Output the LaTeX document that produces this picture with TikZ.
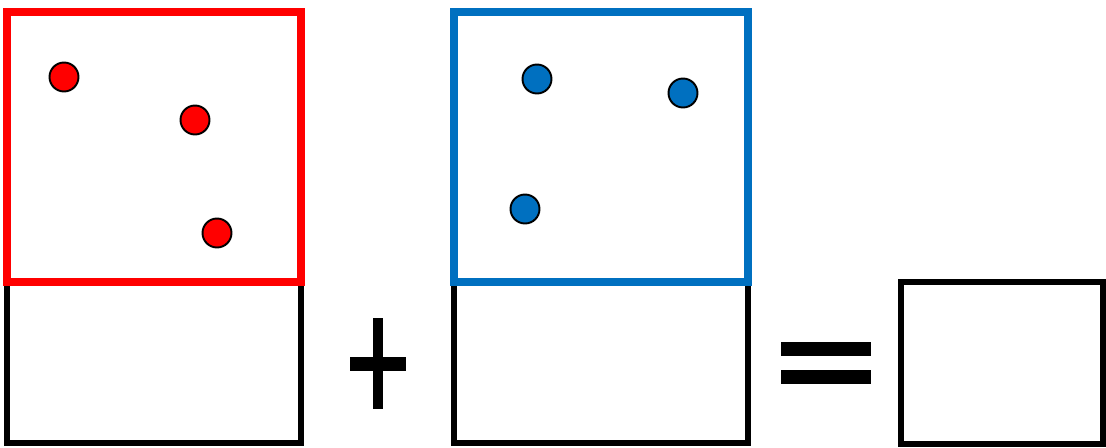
\documentclass[tikz,border=0pt]{standalone}
\usepackage{xcolor}
\usetikzlibrary{positioning}
\definecolor{dred}{HTML}{FF0000}
\definecolor{dblue}{HTML}{0070C0}
\tikzset{
  frame/.style={draw=black,line width=3.4pt},
  redsq/.style={draw=dred,line width=4.55pt},
  bluesq/.style={draw=dblue,line width=4.55pt},
  dotr/.style={circle,draw=black,line width=1.1pt,fill=dred,minimum size=0.58cm,inner sep=0pt},
  dotb/.style={dotr,fill=dblue},
  sign/.style={fill=black}
}
\begin{document}
\begin{tikzpicture}[x=0.02cm,y=-0.02cm]
\useasboundingbox (0,0) rectangle (1106,447);
% lower boxes
\draw[frame] (7,282) rectangle (301,443);
\draw[frame] (454,282) rectangle (748,443);
\draw[frame] (901,282) rectangle (1103,444);
% upper squares
\draw[redsq] (7,12) rectangle (301,282);
\draw[bluesq] (454,12) rectangle (748,282);
% points
\node[dotr] (r1) at (64,77) {};
\node[dotr] (r2) at (195,120) {};
\node[dotr] (r3) at (217,233) {};
\node[dotb] (b1) at (537,79) {};
\node[dotb] (b2) at (683,93) {};
\node[dotb] (b3) at (525,209) {};
% plus and equals
\fill[sign] (373,318) rectangle (383,409);
\fill[sign] (350,357) rectangle (406,371);
\fill[sign] (781,342) rectangle (871,356);
\fill[sign] (781,370) rectangle (871,384);
\end{tikzpicture}
\end{document}
